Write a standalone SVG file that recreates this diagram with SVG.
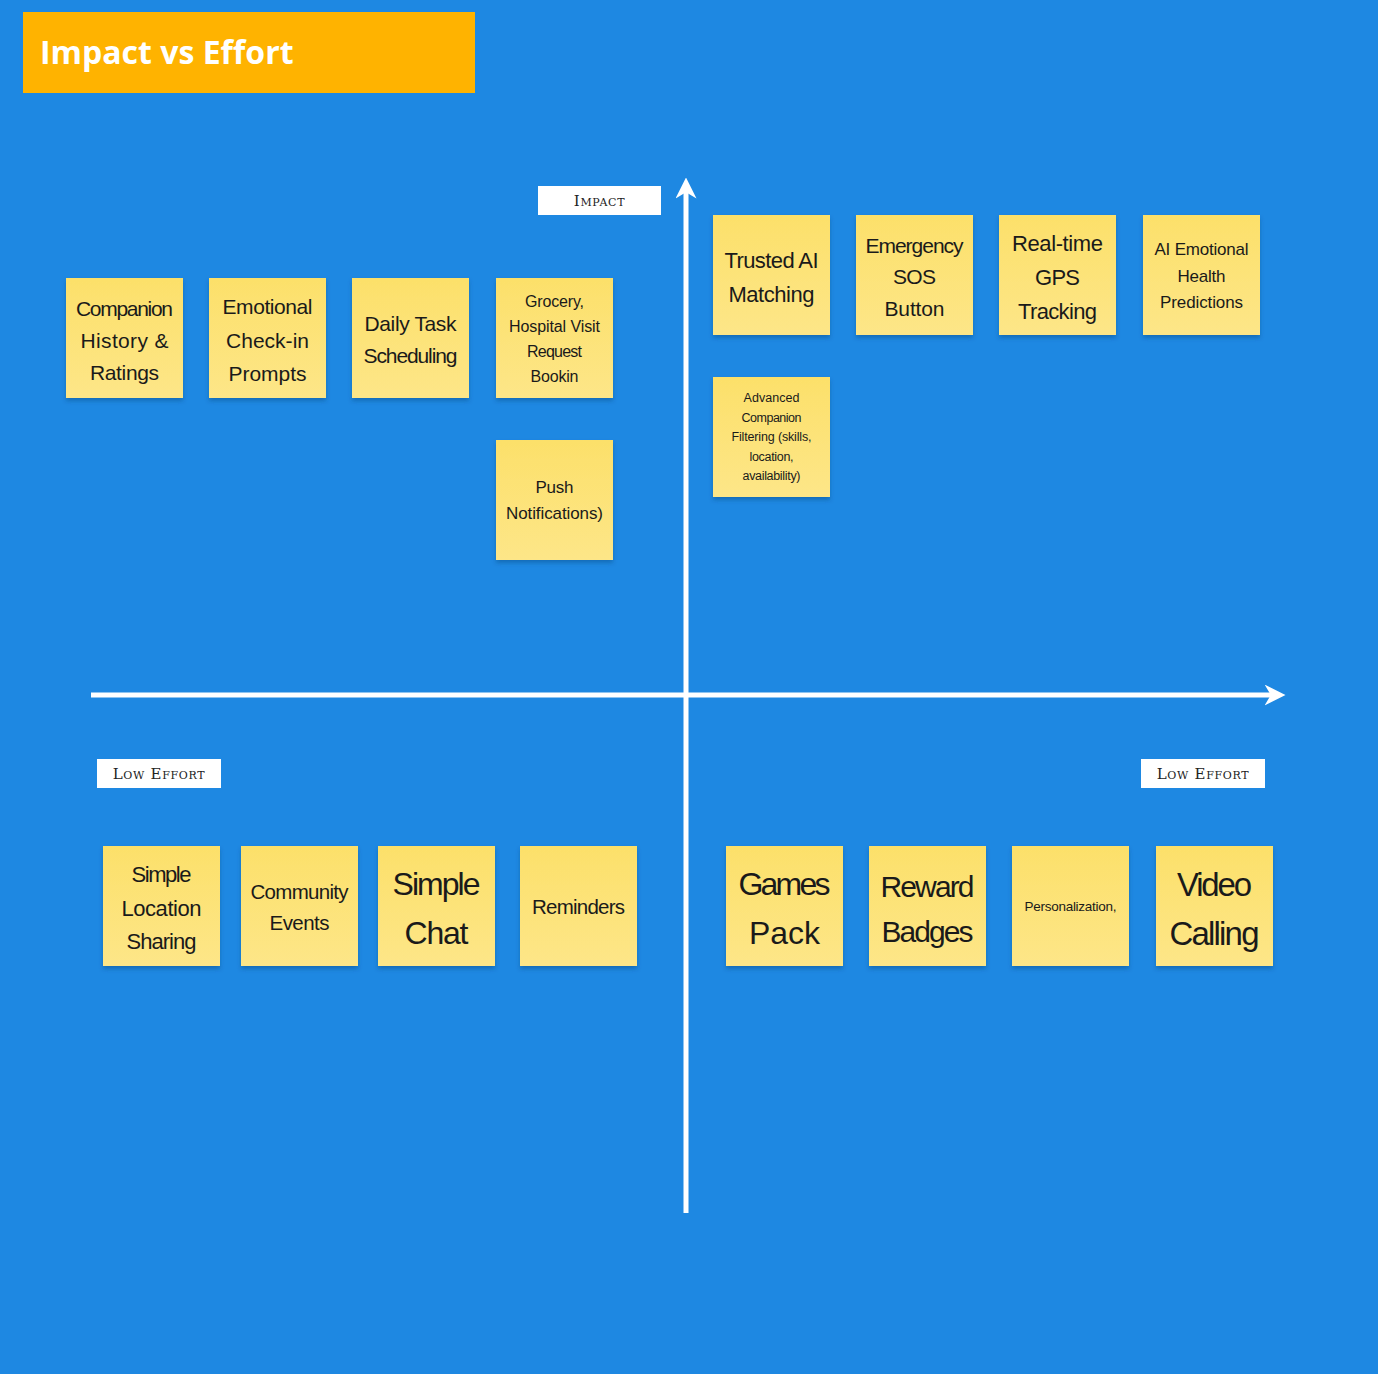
<svg xmlns="http://www.w3.org/2000/svg" width="1380" height="1376" viewBox="0 0 1380 1376">
<style>
.bg{fill:#1E88E2}
.title{fill:#FFB300}
.tt{font-family:"Open Sans","Noto Sans","DejaVu Sans",sans-serif;font-weight:700;font-size:32px;fill:#ffffff}
.lbl{fill:#ffffff}
.lt{font-family:"DejaVu Serif","Liberation Serif",serif;font-variant:small-caps;font-size:15px;fill:#222;text-anchor:middle;dominant-baseline:central;letter-spacing:0.7px}
.note{fill:url(#ng);filter:url(#sh)}
.nt{font-family:"Liberation Sans","Arial",sans-serif;fill:#1a1a1a;text-anchor:middle;dominant-baseline:central}
.axis{stroke:#ffffff;stroke-width:5;fill:none}
</style>
<defs>
<linearGradient id="ng" x1="0" y1="0" x2="0" y2="1">
<stop offset="0" stop-color="#FCE06A"/>
<stop offset="1" stop-color="#FDE688"/>
</linearGradient>
<filter id="sh" x="-10%" y="-10%" width="120%" height="125%">
<feDropShadow dx="0" dy="3" stdDeviation="2" flood-color="#0a3a6a" flood-opacity="0.35"/>
</filter>
<marker id="ah" viewBox="0 0 10 10" refX="5" refY="5" markerWidth="4.2" markerHeight="4.2" orient="auto" markerUnits="strokeWidth">
<path d="M0,0 L10,5 L0,10 L3,5 Z" fill="#ffffff"/>
</marker>
</defs>
<rect class="bg" x="0" y="0" width="1378" height="1374"/>
<g id="title">
<rect class="title" x="23" y="12" width="452" height="81"/>
<text class="tt" x="40" y="64">Impact vs Effort</text>
</g>
<g id="connectors">
<line class="axis" x1="686" y1="1213" x2="686" y2="188" marker-end="url(#ah)"/>
<line class="axis" x1="91" y1="695" x2="1275" y2="695" marker-end="url(#ah)"/>
</g>
<g id="label-impact">
<rect class="lbl" x="538" y="186" width="123" height="29"/>
<text class="lt" x="599.5" y="200.5">Impact</text>
</g>
<g id="label-low-effort-left">
<rect class="lbl" x="97" y="759" width="124" height="29"/>
<text class="lt" x="159" y="773.5">Low Effort</text>
</g>
<g id="label-low-effort-right">
<rect class="lbl" x="1141" y="759" width="124" height="29"/>
<text class="lt" x="1203" y="773.5">Low Effort</text>
</g>
<g id="n-companion-history">
<rect class="note" x="66" y="278" width="117" height="120"/>
<text class="nt" font-size="21" lengthAdjust="spacingAndGlyphs"><tspan x="124.5" y="308" textLength="97">Companion</tspan><tspan x="124.5" y="340" textLength="88">History &amp;</tspan><tspan x="124.5" y="372" textLength="69">Ratings</tspan></text>
</g>
<g id="n-emotional-checkin">
<rect class="note" x="209" y="278" width="117" height="120"/>
<text class="nt" font-size="21" lengthAdjust="spacingAndGlyphs"><tspan x="267.5" y="306" textLength="90">Emotional</tspan><tspan x="267.5" y="340" textLength="83">Check-in</tspan><tspan x="267.5" y="373" textLength="78">Prompts</tspan></text>
</g>
<g id="n-daily-task">
<rect class="note" x="352" y="278" width="117" height="120"/>
<text class="nt" font-size="21" lengthAdjust="spacingAndGlyphs"><tspan x="410.5" y="323" textLength="92">Daily Task</tspan><tspan x="410.5" y="355" textLength="94">Scheduling</tspan></text>
</g>
<g id="n-grocery">
<rect class="note" x="496" y="278" width="117" height="120"/>
<text class="nt" font-size="16" lengthAdjust="spacingAndGlyphs"><tspan x="554.5" y="301" textLength="59">Grocery,</tspan><tspan x="554.5" y="326" textLength="91">Hospital Visit</tspan><tspan x="554.5" y="351" textLength="55">Request</tspan><tspan x="554.5" y="376" textLength="48">Bookin</tspan></text>
</g>
<g id="n-push">
<rect class="note" x="496" y="440" width="117" height="120"/>
<text class="nt" font-size="17" lengthAdjust="spacingAndGlyphs"><tspan x="554.5" y="487" textLength="38">Push</tspan><tspan x="554.5" y="513" textLength="97">Notifications)</tspan></text>
</g>
<g id="n-trusted-ai">
<rect class="note" x="713" y="215" width="117" height="120"/>
<text class="nt" font-size="22" lengthAdjust="spacingAndGlyphs"><tspan x="771.5" y="260" textLength="94">Trusted AI</tspan><tspan x="771.5" y="294" textLength="86">Matching</tspan></text>
</g>
<g id="n-emergency-sos">
<rect class="note" x="856" y="215" width="117" height="120"/>
<text class="nt" font-size="21" lengthAdjust="spacingAndGlyphs"><tspan x="914.5" y="245" textLength="98">Emergency</tspan><tspan x="914.5" y="276" textLength="43">SOS</tspan><tspan x="914.5" y="308" textLength="60">Button</tspan></text>
</g>
<g id="n-gps">
<rect class="note" x="999" y="215" width="117" height="120"/>
<text class="nt" font-size="22" lengthAdjust="spacingAndGlyphs"><tspan x="1057.5" y="243" textLength="91">Real-time</tspan><tspan x="1057.5" y="277" textLength="45">GPS</tspan><tspan x="1057.5" y="311" textLength="79">Tracking</tspan></text>
</g>
<g id="n-ai-health">
<rect class="note" x="1143" y="215" width="117" height="120"/>
<text class="nt" font-size="17" lengthAdjust="spacingAndGlyphs"><tspan x="1201.5" y="249" textLength="94">AI Emotional</tspan><tspan x="1201.5" y="276" textLength="48">Health</tspan><tspan x="1201.5" y="302" textLength="83">Predictions</tspan></text>
</g>
<g id="n-advanced-filtering">
<rect class="note" x="713" y="377" width="117" height="120"/>
<text class="nt" font-size="12.5" lengthAdjust="spacingAndGlyphs"><tspan x="771.5" y="398" textLength="56">Advanced</tspan><tspan x="771.5" y="418" textLength="60">Companion</tspan><tspan x="771.5" y="437" textLength="80">Filtering (skills,</tspan><tspan x="771.5" y="457" textLength="44">location,</tspan><tspan x="771.5" y="476" textLength="58">availability)</tspan></text>
</g>
<g id="n-location-sharing">
<rect class="note" x="103" y="846" width="117" height="120"/>
<text class="nt" font-size="22" lengthAdjust="spacingAndGlyphs"><tspan x="161.5" y="874" textLength="60">Simple</tspan><tspan x="161.5" y="908" textLength="80">Location</tspan><tspan x="161.5" y="941" textLength="70">Sharing</tspan></text>
</g>
<g id="n-community-events">
<rect class="note" x="241" y="846" width="117" height="120"/>
<text class="nt" font-size="20.5" lengthAdjust="spacingAndGlyphs"><tspan x="299.5" y="891" textLength="98">Community</tspan><tspan x="299.5" y="922" textLength="60">Events</tspan></text>
</g>
<g id="n-simple-chat">
<rect class="note" x="378" y="846" width="117" height="120"/>
<text class="nt" font-size="32" lengthAdjust="spacingAndGlyphs"><tspan x="436.5" y="884" textLength="88">Simple</tspan><tspan x="436.5" y="933" textLength="64">Chat</tspan></text>
</g>
<g id="n-reminders">
<rect class="note" x="520" y="846" width="117" height="120"/>
<text class="nt" font-size="20.5" lengthAdjust="spacingAndGlyphs"><tspan x="578.5" y="906" textLength="93">Reminders</tspan></text>
</g>
<g id="n-games-pack">
<rect class="note" x="726" y="846" width="117" height="120"/>
<text class="nt" font-size="32" lengthAdjust="spacingAndGlyphs"><tspan x="784.5" y="884" textLength="92">Games</tspan><tspan x="784.5" y="933" textLength="71">Pack</tspan></text>
</g>
<g id="n-reward-badges">
<rect class="note" x="869" y="846" width="117" height="120"/>
<text class="nt" font-size="30" lengthAdjust="spacingAndGlyphs"><tspan x="927.5" y="886" textLength="94">Reward</tspan><tspan x="927.5" y="931" textLength="92">Badges</tspan></text>
</g>
<g id="n-personalization">
<rect class="note" x="1012" y="846" width="117" height="120"/>
<text class="nt" font-size="13.5" lengthAdjust="spacingAndGlyphs"><tspan x="1070.5" y="906" textLength="92">Personalization,</tspan></text>
</g>
<g id="n-video-calling">
<rect class="note" x="1156" y="846" width="117" height="120"/>
<text class="nt" font-size="33" lengthAdjust="spacingAndGlyphs"><tspan x="1214.5" y="884" textLength="75">Video</tspan><tspan x="1214.5" y="933" textLength="90">Calling</tspan></text>
</g>
</svg>
